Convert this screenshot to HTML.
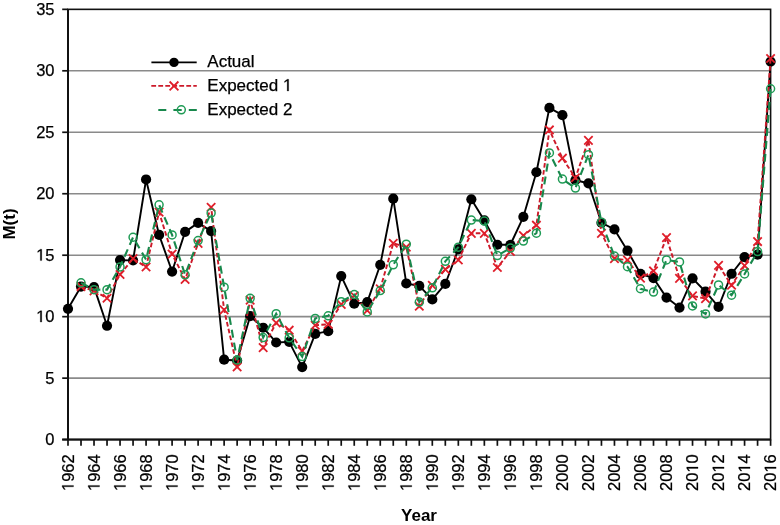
<!DOCTYPE html>
<html><head><meta charset="utf-8"><style>
html,body{margin:0;padding:0;background:#fff;}
svg{display:block;will-change:transform;}
.lbl{font-family:"Liberation Sans",sans-serif;font-size:16.5px;fill:#000;stroke:#000;stroke-width:0.25px;}
.leg{font-family:"Liberation Sans",sans-serif;font-size:17px;fill:#000;stroke:#000;stroke-width:0.25px;}
.ttl{font-family:"Liberation Sans",sans-serif;font-size:17px;font-weight:bold;fill:#000;}
</style></head><body>
<svg width="780" height="525" viewBox="0 0 780 525">
<defs><path id="one" d="M515 0V1237L197 1010V1180L530 1409H696V0Z" fill="#000" stroke="#000" stroke-width="0.25" vector-effect="non-scaling-stroke"/></defs>
<rect width="780" height="525" fill="#fff"/>
<line x1="68" y1="378.14" x2="770.6" y2="378.14" stroke="#8a8a8a" stroke-width="1.6"/>
<line x1="68" y1="316.67" x2="770.6" y2="316.67" stroke="#8a8a8a" stroke-width="1.6"/>
<line x1="68" y1="255.21" x2="770.6" y2="255.21" stroke="#8a8a8a" stroke-width="1.6"/>
<line x1="68" y1="193.74" x2="770.6" y2="193.74" stroke="#8a8a8a" stroke-width="1.6"/>
<line x1="68" y1="132.28" x2="770.6" y2="132.28" stroke="#8a8a8a" stroke-width="1.6"/>
<line x1="68" y1="70.81" x2="770.6" y2="70.81" stroke="#8a8a8a" stroke-width="1.6"/>
<rect x="68" y="9.35" width="702.60" height="430.25" fill="none" stroke="#111" stroke-width="1.6"/>
<line x1="68" y1="9.35" x2="68" y2="439.60" stroke="#111" stroke-width="2"/>
<line x1="62.2" y1="439.60" x2="770.6" y2="439.60" stroke="#111" stroke-width="2"/>
<line x1="62.2" y1="439.60" x2="68" y2="439.60" stroke="#111" stroke-width="1.7"/>
<line x1="62.2" y1="378.14" x2="68" y2="378.14" stroke="#111" stroke-width="1.7"/>
<line x1="62.2" y1="316.67" x2="68" y2="316.67" stroke="#111" stroke-width="1.7"/>
<line x1="62.2" y1="255.21" x2="68" y2="255.21" stroke="#111" stroke-width="1.7"/>
<line x1="62.2" y1="193.74" x2="68" y2="193.74" stroke="#111" stroke-width="1.7"/>
<line x1="62.2" y1="132.28" x2="68" y2="132.28" stroke="#111" stroke-width="1.7"/>
<line x1="62.2" y1="70.81" x2="68" y2="70.81" stroke="#111" stroke-width="1.7"/>
<line x1="62.2" y1="9.35" x2="68" y2="9.35" stroke="#111" stroke-width="1.7"/>
<line x1="68.00" y1="439.60" x2="68.00" y2="445.80" stroke="#111" stroke-width="1.7"/>
<line x1="81.01" y1="439.60" x2="81.01" y2="445.80" stroke="#111" stroke-width="1.7"/>
<line x1="94.02" y1="439.60" x2="94.02" y2="445.80" stroke="#111" stroke-width="1.7"/>
<line x1="107.03" y1="439.60" x2="107.03" y2="445.80" stroke="#111" stroke-width="1.7"/>
<line x1="120.04" y1="439.60" x2="120.04" y2="445.80" stroke="#111" stroke-width="1.7"/>
<line x1="133.06" y1="439.60" x2="133.06" y2="445.80" stroke="#111" stroke-width="1.7"/>
<line x1="146.07" y1="439.60" x2="146.07" y2="445.80" stroke="#111" stroke-width="1.7"/>
<line x1="159.08" y1="439.60" x2="159.08" y2="445.80" stroke="#111" stroke-width="1.7"/>
<line x1="172.09" y1="439.60" x2="172.09" y2="445.80" stroke="#111" stroke-width="1.7"/>
<line x1="185.10" y1="439.60" x2="185.10" y2="445.80" stroke="#111" stroke-width="1.7"/>
<line x1="198.11" y1="439.60" x2="198.11" y2="445.80" stroke="#111" stroke-width="1.7"/>
<line x1="211.12" y1="439.60" x2="211.12" y2="445.80" stroke="#111" stroke-width="1.7"/>
<line x1="224.13" y1="439.60" x2="224.13" y2="445.80" stroke="#111" stroke-width="1.7"/>
<line x1="237.14" y1="439.60" x2="237.14" y2="445.80" stroke="#111" stroke-width="1.7"/>
<line x1="250.15" y1="439.60" x2="250.15" y2="445.80" stroke="#111" stroke-width="1.7"/>
<line x1="263.16" y1="439.60" x2="263.16" y2="445.80" stroke="#111" stroke-width="1.7"/>
<line x1="276.18" y1="439.60" x2="276.18" y2="445.80" stroke="#111" stroke-width="1.7"/>
<line x1="289.19" y1="439.60" x2="289.19" y2="445.80" stroke="#111" stroke-width="1.7"/>
<line x1="302.20" y1="439.60" x2="302.20" y2="445.80" stroke="#111" stroke-width="1.7"/>
<line x1="315.21" y1="439.60" x2="315.21" y2="445.80" stroke="#111" stroke-width="1.7"/>
<line x1="328.22" y1="439.60" x2="328.22" y2="445.80" stroke="#111" stroke-width="1.7"/>
<line x1="341.23" y1="439.60" x2="341.23" y2="445.80" stroke="#111" stroke-width="1.7"/>
<line x1="354.24" y1="439.60" x2="354.24" y2="445.80" stroke="#111" stroke-width="1.7"/>
<line x1="367.25" y1="439.60" x2="367.25" y2="445.80" stroke="#111" stroke-width="1.7"/>
<line x1="380.26" y1="439.60" x2="380.26" y2="445.80" stroke="#111" stroke-width="1.7"/>
<line x1="393.27" y1="439.60" x2="393.27" y2="445.80" stroke="#111" stroke-width="1.7"/>
<line x1="406.29" y1="439.60" x2="406.29" y2="445.80" stroke="#111" stroke-width="1.7"/>
<line x1="419.30" y1="439.60" x2="419.30" y2="445.80" stroke="#111" stroke-width="1.7"/>
<line x1="432.31" y1="439.60" x2="432.31" y2="445.80" stroke="#111" stroke-width="1.7"/>
<line x1="445.32" y1="439.60" x2="445.32" y2="445.80" stroke="#111" stroke-width="1.7"/>
<line x1="458.33" y1="439.60" x2="458.33" y2="445.80" stroke="#111" stroke-width="1.7"/>
<line x1="471.34" y1="439.60" x2="471.34" y2="445.80" stroke="#111" stroke-width="1.7"/>
<line x1="484.35" y1="439.60" x2="484.35" y2="445.80" stroke="#111" stroke-width="1.7"/>
<line x1="497.36" y1="439.60" x2="497.36" y2="445.80" stroke="#111" stroke-width="1.7"/>
<line x1="510.37" y1="439.60" x2="510.37" y2="445.80" stroke="#111" stroke-width="1.7"/>
<line x1="523.38" y1="439.60" x2="523.38" y2="445.80" stroke="#111" stroke-width="1.7"/>
<line x1="536.40" y1="439.60" x2="536.40" y2="445.80" stroke="#111" stroke-width="1.7"/>
<line x1="549.41" y1="439.60" x2="549.41" y2="445.80" stroke="#111" stroke-width="1.7"/>
<line x1="562.42" y1="439.60" x2="562.42" y2="445.80" stroke="#111" stroke-width="1.7"/>
<line x1="575.43" y1="439.60" x2="575.43" y2="445.80" stroke="#111" stroke-width="1.7"/>
<line x1="588.44" y1="439.60" x2="588.44" y2="445.80" stroke="#111" stroke-width="1.7"/>
<line x1="601.45" y1="439.60" x2="601.45" y2="445.80" stroke="#111" stroke-width="1.7"/>
<line x1="614.46" y1="439.60" x2="614.46" y2="445.80" stroke="#111" stroke-width="1.7"/>
<line x1="627.47" y1="439.60" x2="627.47" y2="445.80" stroke="#111" stroke-width="1.7"/>
<line x1="640.48" y1="439.60" x2="640.48" y2="445.80" stroke="#111" stroke-width="1.7"/>
<line x1="653.50" y1="439.60" x2="653.50" y2="445.80" stroke="#111" stroke-width="1.7"/>
<line x1="666.51" y1="439.60" x2="666.51" y2="445.80" stroke="#111" stroke-width="1.7"/>
<line x1="679.52" y1="439.60" x2="679.52" y2="445.80" stroke="#111" stroke-width="1.7"/>
<line x1="692.53" y1="439.60" x2="692.53" y2="445.80" stroke="#111" stroke-width="1.7"/>
<line x1="705.54" y1="439.60" x2="705.54" y2="445.80" stroke="#111" stroke-width="1.7"/>
<line x1="718.55" y1="439.60" x2="718.55" y2="445.80" stroke="#111" stroke-width="1.7"/>
<line x1="731.56" y1="439.60" x2="731.56" y2="445.80" stroke="#111" stroke-width="1.7"/>
<line x1="744.57" y1="439.60" x2="744.57" y2="445.80" stroke="#111" stroke-width="1.7"/>
<line x1="757.58" y1="439.60" x2="757.58" y2="445.80" stroke="#111" stroke-width="1.7"/>
<line x1="770.59" y1="439.60" x2="770.59" y2="445.80" stroke="#111" stroke-width="1.7"/>
<text x="45.32" y="445.00" class="lbl">0</text>
<text x="45.32" y="383.54" class="lbl">5</text>
<use href="#one" transform="translate(36.15,322.07) scale(0.008057,-0.008057)"/><text x="45.32" y="322.07" class="lbl">0</text>
<use href="#one" transform="translate(36.15,260.61) scale(0.008057,-0.008057)"/><text x="45.32" y="260.61" class="lbl">5</text>
<text x="36.15 45.32" y="199.14" class="lbl">20</text>
<text x="36.15 45.32" y="137.68" class="lbl">25</text>
<text x="36.15 45.32" y="76.21" class="lbl">30</text>
<text x="36.15 45.32" y="14.75" class="lbl">35</text>
<g transform="translate(73.50,454.3) rotate(-90)"><use href="#one" transform="translate(-36.71,0.00) scale(0.008057,-0.008057)"/><text x="-27.53 -18.35 -9.18" y="0.00" class="lbl">962</text></g>
<g transform="translate(99.52,454.3) rotate(-90)"><use href="#one" transform="translate(-36.71,0.00) scale(0.008057,-0.008057)"/><text x="-27.53 -18.35 -9.18" y="0.00" class="lbl">964</text></g>
<g transform="translate(125.54,454.3) rotate(-90)"><use href="#one" transform="translate(-36.71,0.00) scale(0.008057,-0.008057)"/><text x="-27.53 -18.35 -9.18" y="0.00" class="lbl">966</text></g>
<g transform="translate(151.57,454.3) rotate(-90)"><use href="#one" transform="translate(-36.71,0.00) scale(0.008057,-0.008057)"/><text x="-27.53 -18.35 -9.18" y="0.00" class="lbl">968</text></g>
<g transform="translate(177.59,454.3) rotate(-90)"><use href="#one" transform="translate(-36.71,0.00) scale(0.008057,-0.008057)"/><text x="-27.53 -18.35 -9.18" y="0.00" class="lbl">970</text></g>
<g transform="translate(203.61,454.3) rotate(-90)"><use href="#one" transform="translate(-36.71,0.00) scale(0.008057,-0.008057)"/><text x="-27.53 -18.35 -9.18" y="0.00" class="lbl">972</text></g>
<g transform="translate(229.63,454.3) rotate(-90)"><use href="#one" transform="translate(-36.71,0.00) scale(0.008057,-0.008057)"/><text x="-27.53 -18.35 -9.18" y="0.00" class="lbl">974</text></g>
<g transform="translate(255.65,454.3) rotate(-90)"><use href="#one" transform="translate(-36.71,0.00) scale(0.008057,-0.008057)"/><text x="-27.53 -18.35 -9.18" y="0.00" class="lbl">976</text></g>
<g transform="translate(281.68,454.3) rotate(-90)"><use href="#one" transform="translate(-36.71,0.00) scale(0.008057,-0.008057)"/><text x="-27.53 -18.35 -9.18" y="0.00" class="lbl">978</text></g>
<g transform="translate(307.70,454.3) rotate(-90)"><use href="#one" transform="translate(-36.71,0.00) scale(0.008057,-0.008057)"/><text x="-27.53 -18.35 -9.18" y="0.00" class="lbl">980</text></g>
<g transform="translate(333.72,454.3) rotate(-90)"><use href="#one" transform="translate(-36.71,0.00) scale(0.008057,-0.008057)"/><text x="-27.53 -18.35 -9.18" y="0.00" class="lbl">982</text></g>
<g transform="translate(359.74,454.3) rotate(-90)"><use href="#one" transform="translate(-36.71,0.00) scale(0.008057,-0.008057)"/><text x="-27.53 -18.35 -9.18" y="0.00" class="lbl">984</text></g>
<g transform="translate(385.76,454.3) rotate(-90)"><use href="#one" transform="translate(-36.71,0.00) scale(0.008057,-0.008057)"/><text x="-27.53 -18.35 -9.18" y="0.00" class="lbl">986</text></g>
<g transform="translate(411.79,454.3) rotate(-90)"><use href="#one" transform="translate(-36.71,0.00) scale(0.008057,-0.008057)"/><text x="-27.53 -18.35 -9.18" y="0.00" class="lbl">988</text></g>
<g transform="translate(437.81,454.3) rotate(-90)"><use href="#one" transform="translate(-36.71,0.00) scale(0.008057,-0.008057)"/><text x="-27.53 -18.35 -9.18" y="0.00" class="lbl">990</text></g>
<g transform="translate(463.83,454.3) rotate(-90)"><use href="#one" transform="translate(-36.71,0.00) scale(0.008057,-0.008057)"/><text x="-27.53 -18.35 -9.18" y="0.00" class="lbl">992</text></g>
<g transform="translate(489.85,454.3) rotate(-90)"><use href="#one" transform="translate(-36.71,0.00) scale(0.008057,-0.008057)"/><text x="-27.53 -18.35 -9.18" y="0.00" class="lbl">994</text></g>
<g transform="translate(515.87,454.3) rotate(-90)"><use href="#one" transform="translate(-36.71,0.00) scale(0.008057,-0.008057)"/><text x="-27.53 -18.35 -9.18" y="0.00" class="lbl">996</text></g>
<g transform="translate(541.90,454.3) rotate(-90)"><use href="#one" transform="translate(-36.71,0.00) scale(0.008057,-0.008057)"/><text x="-27.53 -18.35 -9.18" y="0.00" class="lbl">998</text></g>
<g transform="translate(567.92,454.3) rotate(-90)"><text x="-36.71 -27.53 -18.35 -9.18" y="0.00" class="lbl">2000</text></g>
<g transform="translate(593.94,454.3) rotate(-90)"><text x="-36.71 -27.53 -18.35 -9.18" y="0.00" class="lbl">2002</text></g>
<g transform="translate(619.96,454.3) rotate(-90)"><text x="-36.71 -27.53 -18.35 -9.18" y="0.00" class="lbl">2004</text></g>
<g transform="translate(645.98,454.3) rotate(-90)"><text x="-36.71 -27.53 -18.35 -9.18" y="0.00" class="lbl">2006</text></g>
<g transform="translate(672.01,454.3) rotate(-90)"><text x="-36.71 -27.53 -18.35 -9.18" y="0.00" class="lbl">2008</text></g>
<g transform="translate(698.03,454.3) rotate(-90)"><use href="#one" transform="translate(-18.35,0.00) scale(0.008057,-0.008057)"/><text x="-36.71 -27.53 -9.18" y="0.00" class="lbl">200</text></g>
<g transform="translate(724.05,454.3) rotate(-90)"><use href="#one" transform="translate(-18.35,0.00) scale(0.008057,-0.008057)"/><text x="-36.71 -27.53 -9.18" y="0.00" class="lbl">202</text></g>
<g transform="translate(750.07,454.3) rotate(-90)"><use href="#one" transform="translate(-18.35,0.00) scale(0.008057,-0.008057)"/><text x="-36.71 -27.53 -9.18" y="0.00" class="lbl">204</text></g>
<g transform="translate(776.09,454.3) rotate(-90)"><use href="#one" transform="translate(-18.35,0.00) scale(0.008057,-0.008057)"/><text x="-36.71 -27.53 -9.18" y="0.00" class="lbl">206</text></g>
<text transform="translate(14.6,224) rotate(-90)" text-anchor="middle" class="ttl">M(t)</text>
<text x="419" y="520.5" text-anchor="middle" class="ttl">Year</text>
<polyline points="68.00,308.80 81.01,286.55 94.02,287.17 107.03,325.77 120.04,260.12 133.06,260.37 146.07,179.48 159.08,234.92 172.09,271.55 185.10,231.85 198.11,222.87 211.12,231.11 224.13,359.70 237.14,360.56 250.15,316.18 263.16,327.73 276.18,342.49 289.19,341.87 302.20,367.07 315.21,333.88 328.22,331.18 341.23,276.10 354.24,303.76 367.25,302.16 380.26,264.79 393.27,198.66 406.29,283.48 419.30,285.94 432.31,299.46 445.32,283.97 458.33,249.30 471.34,199.27 484.35,220.42 497.36,244.76 510.37,244.76 523.38,216.85 536.40,172.23 549.41,107.93 562.42,115.19 575.43,180.22 588.44,183.29 601.45,222.75 614.46,229.39 627.47,250.66 640.48,273.77 653.50,278.19 666.51,297.62 679.52,307.57 692.53,278.32 705.54,291.72 718.55,306.96 731.56,273.77 744.57,257.17 757.58,254.71 770.59,61.59" fill="none" stroke="#000" stroke-width="1.9" stroke-linejoin="round"/>
<circle cx="68.00" cy="308.80" r="5.1" fill="#000"/>
<circle cx="81.01" cy="286.55" r="5.1" fill="#000"/>
<circle cx="94.02" cy="287.17" r="5.1" fill="#000"/>
<circle cx="107.03" cy="325.77" r="5.1" fill="#000"/>
<circle cx="120.04" cy="260.12" r="5.1" fill="#000"/>
<circle cx="133.06" cy="260.37" r="5.1" fill="#000"/>
<circle cx="146.07" cy="179.48" r="5.1" fill="#000"/>
<circle cx="159.08" cy="234.92" r="5.1" fill="#000"/>
<circle cx="172.09" cy="271.55" r="5.1" fill="#000"/>
<circle cx="185.10" cy="231.85" r="5.1" fill="#000"/>
<circle cx="198.11" cy="222.87" r="5.1" fill="#000"/>
<circle cx="211.12" cy="231.11" r="5.1" fill="#000"/>
<circle cx="224.13" cy="359.70" r="5.1" fill="#000"/>
<circle cx="237.14" cy="360.56" r="5.1" fill="#000"/>
<circle cx="250.15" cy="316.18" r="5.1" fill="#000"/>
<circle cx="263.16" cy="327.73" r="5.1" fill="#000"/>
<circle cx="276.18" cy="342.49" r="5.1" fill="#000"/>
<circle cx="289.19" cy="341.87" r="5.1" fill="#000"/>
<circle cx="302.20" cy="367.07" r="5.1" fill="#000"/>
<circle cx="315.21" cy="333.88" r="5.1" fill="#000"/>
<circle cx="328.22" cy="331.18" r="5.1" fill="#000"/>
<circle cx="341.23" cy="276.10" r="5.1" fill="#000"/>
<circle cx="354.24" cy="303.76" r="5.1" fill="#000"/>
<circle cx="367.25" cy="302.16" r="5.1" fill="#000"/>
<circle cx="380.26" cy="264.79" r="5.1" fill="#000"/>
<circle cx="393.27" cy="198.66" r="5.1" fill="#000"/>
<circle cx="406.29" cy="283.48" r="5.1" fill="#000"/>
<circle cx="419.30" cy="285.94" r="5.1" fill="#000"/>
<circle cx="432.31" cy="299.46" r="5.1" fill="#000"/>
<circle cx="445.32" cy="283.97" r="5.1" fill="#000"/>
<circle cx="458.33" cy="249.30" r="5.1" fill="#000"/>
<circle cx="471.34" cy="199.27" r="5.1" fill="#000"/>
<circle cx="484.35" cy="220.42" r="5.1" fill="#000"/>
<circle cx="497.36" cy="244.76" r="5.1" fill="#000"/>
<circle cx="510.37" cy="244.76" r="5.1" fill="#000"/>
<circle cx="523.38" cy="216.85" r="5.1" fill="#000"/>
<circle cx="536.40" cy="172.23" r="5.1" fill="#000"/>
<circle cx="549.41" cy="107.93" r="5.1" fill="#000"/>
<circle cx="562.42" cy="115.19" r="5.1" fill="#000"/>
<circle cx="575.43" cy="180.22" r="5.1" fill="#000"/>
<circle cx="588.44" cy="183.29" r="5.1" fill="#000"/>
<circle cx="601.45" cy="222.75" r="5.1" fill="#000"/>
<circle cx="614.46" cy="229.39" r="5.1" fill="#000"/>
<circle cx="627.47" cy="250.66" r="5.1" fill="#000"/>
<circle cx="640.48" cy="273.77" r="5.1" fill="#000"/>
<circle cx="653.50" cy="278.19" r="5.1" fill="#000"/>
<circle cx="666.51" cy="297.62" r="5.1" fill="#000"/>
<circle cx="679.52" cy="307.57" r="5.1" fill="#000"/>
<circle cx="692.53" cy="278.32" r="5.1" fill="#000"/>
<circle cx="705.54" cy="291.72" r="5.1" fill="#000"/>
<circle cx="718.55" cy="306.96" r="5.1" fill="#000"/>
<circle cx="731.56" cy="273.77" r="5.1" fill="#000"/>
<circle cx="744.57" cy="257.17" r="5.1" fill="#000"/>
<circle cx="757.58" cy="254.71" r="5.1" fill="#000"/>
<circle cx="770.59" cy="61.59" r="5.1" fill="#000"/>
<polyline points="81.01,286.55 94.02,290.85 107.03,298.23 120.04,274.51 133.06,258.65 146.07,267.01 159.08,212.18 172.09,254.10 185.10,279.42 198.11,243.40 211.12,207.26 224.13,309.91 237.14,366.95 250.15,300.07 263.16,347.65 276.18,322.82 289.19,330.19 302.20,350.97 315.21,325.28 328.22,324.29 341.23,304.38 354.24,295.77 367.25,310.52 380.26,288.76 393.27,243.28 406.29,247.21 419.30,306.22 432.31,285.32 445.32,269.34 458.33,260.00 471.34,233.32 484.35,233.32 497.36,267.50 510.37,251.52 523.38,235.54 536.40,225.21 549.41,129.94 562.42,158.21 575.43,177.76 588.44,140.39 601.45,233.32 614.46,258.65 627.47,260.00 640.48,278.07 653.50,270.94 666.51,237.63 679.52,278.32 692.53,295.89 705.54,298.60 718.55,265.41 731.56,285.20 744.57,265.65 757.58,241.56 770.59,58.52" fill="none" stroke="#cc1a2a" stroke-width="1.9" stroke-dasharray="4.6 2.4"/>
<path d="M76.81,282.35L85.21,290.75M76.81,290.75L85.21,282.35" stroke="#e01e2a" stroke-width="1.8" fill="none"/>
<path d="M89.82,286.65L98.22,295.05M89.82,295.05L98.22,286.65" stroke="#e01e2a" stroke-width="1.8" fill="none"/>
<path d="M102.83,294.03L111.23,302.43M102.83,302.43L111.23,294.03" stroke="#e01e2a" stroke-width="1.8" fill="none"/>
<path d="M115.84,270.31L124.24,278.71M115.84,278.71L124.24,270.31" stroke="#e01e2a" stroke-width="1.8" fill="none"/>
<path d="M128.86,254.45L137.25,262.85M128.86,262.85L137.25,254.45" stroke="#e01e2a" stroke-width="1.8" fill="none"/>
<path d="M141.87,262.81L150.27,271.21M141.87,271.21L150.27,262.81" stroke="#e01e2a" stroke-width="1.8" fill="none"/>
<path d="M154.88,207.98L163.28,216.38M154.88,216.38L163.28,207.98" stroke="#e01e2a" stroke-width="1.8" fill="none"/>
<path d="M167.89,249.90L176.29,258.30M167.89,258.30L176.29,249.90" stroke="#e01e2a" stroke-width="1.8" fill="none"/>
<path d="M180.90,275.22L189.30,283.62M180.90,283.62L189.30,275.22" stroke="#e01e2a" stroke-width="1.8" fill="none"/>
<path d="M193.91,239.20L202.31,247.60M193.91,247.60L202.31,239.20" stroke="#e01e2a" stroke-width="1.8" fill="none"/>
<path d="M206.92,203.06L215.32,211.46M206.92,211.46L215.32,203.06" stroke="#e01e2a" stroke-width="1.8" fill="none"/>
<path d="M219.93,305.71L228.33,314.11M219.93,314.11L228.33,305.71" stroke="#e01e2a" stroke-width="1.8" fill="none"/>
<path d="M232.94,362.75L241.34,371.15M232.94,371.15L241.34,362.75" stroke="#e01e2a" stroke-width="1.8" fill="none"/>
<path d="M245.95,295.87L254.35,304.27M245.95,304.27L254.35,295.87" stroke="#e01e2a" stroke-width="1.8" fill="none"/>
<path d="M258.96,343.45L267.36,351.85M258.96,351.85L267.36,343.45" stroke="#e01e2a" stroke-width="1.8" fill="none"/>
<path d="M271.98,318.62L280.38,327.02M271.98,327.02L280.38,318.62" stroke="#e01e2a" stroke-width="1.8" fill="none"/>
<path d="M284.99,325.99L293.39,334.39M284.99,334.39L293.39,325.99" stroke="#e01e2a" stroke-width="1.8" fill="none"/>
<path d="M298.00,346.77L306.40,355.17M298.00,355.17L306.40,346.77" stroke="#e01e2a" stroke-width="1.8" fill="none"/>
<path d="M311.01,321.08L319.41,329.48M311.01,329.48L319.41,321.08" stroke="#e01e2a" stroke-width="1.8" fill="none"/>
<path d="M324.02,320.09L332.42,328.49M324.02,328.49L332.42,320.09" stroke="#e01e2a" stroke-width="1.8" fill="none"/>
<path d="M337.03,300.18L345.43,308.58M337.03,308.58L345.43,300.18" stroke="#e01e2a" stroke-width="1.8" fill="none"/>
<path d="M350.04,291.57L358.44,299.97M350.04,299.97L358.44,291.57" stroke="#e01e2a" stroke-width="1.8" fill="none"/>
<path d="M363.05,306.32L371.45,314.72M363.05,314.72L371.45,306.32" stroke="#e01e2a" stroke-width="1.8" fill="none"/>
<path d="M376.06,284.56L384.46,292.96M376.06,292.96L384.46,284.56" stroke="#e01e2a" stroke-width="1.8" fill="none"/>
<path d="M389.07,239.08L397.47,247.48M389.07,247.48L397.47,239.08" stroke="#e01e2a" stroke-width="1.8" fill="none"/>
<path d="M402.09,243.01L410.49,251.41M402.09,251.41L410.49,243.01" stroke="#e01e2a" stroke-width="1.8" fill="none"/>
<path d="M415.10,302.02L423.50,310.42M415.10,310.42L423.50,302.02" stroke="#e01e2a" stroke-width="1.8" fill="none"/>
<path d="M428.11,281.12L436.51,289.52M428.11,289.52L436.51,281.12" stroke="#e01e2a" stroke-width="1.8" fill="none"/>
<path d="M441.12,265.14L449.52,273.54M441.12,273.54L449.52,265.14" stroke="#e01e2a" stroke-width="1.8" fill="none"/>
<path d="M454.13,255.80L462.53,264.20M454.13,264.20L462.53,255.80" stroke="#e01e2a" stroke-width="1.8" fill="none"/>
<path d="M467.14,229.12L475.54,237.52M467.14,237.52L475.54,229.12" stroke="#e01e2a" stroke-width="1.8" fill="none"/>
<path d="M480.15,229.12L488.55,237.52M480.15,237.52L488.55,229.12" stroke="#e01e2a" stroke-width="1.8" fill="none"/>
<path d="M493.16,263.30L501.56,271.70M493.16,271.70L501.56,263.30" stroke="#e01e2a" stroke-width="1.8" fill="none"/>
<path d="M506.17,247.32L514.57,255.72M506.17,255.72L514.57,247.32" stroke="#e01e2a" stroke-width="1.8" fill="none"/>
<path d="M519.18,231.34L527.59,239.74M519.18,239.74L527.59,231.34" stroke="#e01e2a" stroke-width="1.8" fill="none"/>
<path d="M532.20,221.01L540.60,229.41M532.20,229.41L540.60,221.01" stroke="#e01e2a" stroke-width="1.8" fill="none"/>
<path d="M545.21,125.74L553.61,134.14M545.21,134.14L553.61,125.74" stroke="#e01e2a" stroke-width="1.8" fill="none"/>
<path d="M558.22,154.01L566.62,162.41M558.22,162.41L566.62,154.01" stroke="#e01e2a" stroke-width="1.8" fill="none"/>
<path d="M571.23,173.56L579.63,181.96M571.23,181.96L579.63,173.56" stroke="#e01e2a" stroke-width="1.8" fill="none"/>
<path d="M584.24,136.19L592.64,144.59M584.24,144.59L592.64,136.19" stroke="#e01e2a" stroke-width="1.8" fill="none"/>
<path d="M597.25,229.12L605.65,237.52M597.25,237.52L605.65,229.12" stroke="#e01e2a" stroke-width="1.8" fill="none"/>
<path d="M610.26,254.45L618.66,262.85M610.26,262.85L618.66,254.45" stroke="#e01e2a" stroke-width="1.8" fill="none"/>
<path d="M623.27,255.80L631.67,264.20M623.27,264.20L631.67,255.80" stroke="#e01e2a" stroke-width="1.8" fill="none"/>
<path d="M636.28,273.87L644.68,282.27M636.28,282.27L644.68,273.87" stroke="#e01e2a" stroke-width="1.8" fill="none"/>
<path d="M649.29,266.74L657.70,275.14M649.29,275.14L657.70,266.74" stroke="#e01e2a" stroke-width="1.8" fill="none"/>
<path d="M662.31,233.43L670.71,241.83M662.31,241.83L670.71,233.43" stroke="#e01e2a" stroke-width="1.8" fill="none"/>
<path d="M675.32,274.12L683.72,282.52M675.32,282.52L683.72,274.12" stroke="#e01e2a" stroke-width="1.8" fill="none"/>
<path d="M688.33,291.69L696.73,300.09M688.33,300.09L696.73,291.69" stroke="#e01e2a" stroke-width="1.8" fill="none"/>
<path d="M701.34,294.40L709.74,302.80M701.34,302.80L709.74,294.40" stroke="#e01e2a" stroke-width="1.8" fill="none"/>
<path d="M714.35,261.21L722.75,269.61M714.35,269.61L722.75,261.21" stroke="#e01e2a" stroke-width="1.8" fill="none"/>
<path d="M727.36,281.00L735.76,289.40M727.36,289.40L735.76,281.00" stroke="#e01e2a" stroke-width="1.8" fill="none"/>
<path d="M740.37,261.45L748.77,269.85M740.37,269.85L748.77,261.45" stroke="#e01e2a" stroke-width="1.8" fill="none"/>
<path d="M753.38,237.36L761.78,245.76M753.38,245.76L761.78,237.36" stroke="#e01e2a" stroke-width="1.8" fill="none"/>
<path d="M766.39,54.32L774.79,62.72M766.39,62.72L774.79,54.32" stroke="#e01e2a" stroke-width="1.8" fill="none"/>
<polyline points="81.01,282.86 94.02,289.63 107.03,289.63 120.04,266.88 133.06,237.26 146.07,259.63 159.08,204.80 172.09,234.92 185.10,274.87 198.11,240.58 211.12,213.04 224.13,287.17 237.14,360.06 250.15,298.35 263.16,337.57 276.18,313.72 289.19,337.81 302.20,356.62 315.21,318.39 328.22,315.81 341.23,301.67 354.24,294.54 367.25,311.88 380.26,290.61 393.27,264.79 406.29,244.14 419.30,302.04 432.31,287.78 445.32,261.35 458.33,247.21 471.34,220.05 484.35,221.03 497.36,255.57 510.37,248.08 523.38,241.07 536.40,233.20 549.41,152.93 562.42,179.11 575.43,188.09 588.44,154.65 601.45,222.26 614.46,256.07 627.47,266.64 640.48,288.76 653.50,292.08 666.51,259.88 679.52,261.97 692.53,305.98 705.54,313.97 718.55,284.95 731.56,295.16 744.57,274.01 757.58,251.52 770.59,88.76" fill="none" stroke="#18884c" stroke-width="2.1" stroke-dasharray="8 5"/>
<circle cx="81.01" cy="282.86" r="4.0" fill="none" stroke="#1f9b55" stroke-width="1.5"/>
<circle cx="94.02" cy="289.63" r="4.0" fill="none" stroke="#1f9b55" stroke-width="1.5"/>
<circle cx="107.03" cy="289.63" r="4.0" fill="none" stroke="#1f9b55" stroke-width="1.5"/>
<circle cx="120.04" cy="266.88" r="4.0" fill="none" stroke="#1f9b55" stroke-width="1.5"/>
<circle cx="133.06" cy="237.26" r="4.0" fill="none" stroke="#1f9b55" stroke-width="1.5"/>
<circle cx="146.07" cy="259.63" r="4.0" fill="none" stroke="#1f9b55" stroke-width="1.5"/>
<circle cx="159.08" cy="204.80" r="4.0" fill="none" stroke="#1f9b55" stroke-width="1.5"/>
<circle cx="172.09" cy="234.92" r="4.0" fill="none" stroke="#1f9b55" stroke-width="1.5"/>
<circle cx="185.10" cy="274.87" r="4.0" fill="none" stroke="#1f9b55" stroke-width="1.5"/>
<circle cx="198.11" cy="240.58" r="4.0" fill="none" stroke="#1f9b55" stroke-width="1.5"/>
<circle cx="211.12" cy="213.04" r="4.0" fill="none" stroke="#1f9b55" stroke-width="1.5"/>
<circle cx="224.13" cy="287.17" r="4.0" fill="none" stroke="#1f9b55" stroke-width="1.5"/>
<circle cx="237.14" cy="360.06" r="4.0" fill="none" stroke="#1f9b55" stroke-width="1.5"/>
<circle cx="250.15" cy="298.35" r="4.0" fill="none" stroke="#1f9b55" stroke-width="1.5"/>
<circle cx="263.16" cy="337.57" r="4.0" fill="none" stroke="#1f9b55" stroke-width="1.5"/>
<circle cx="276.18" cy="313.72" r="4.0" fill="none" stroke="#1f9b55" stroke-width="1.5"/>
<circle cx="289.19" cy="337.81" r="4.0" fill="none" stroke="#1f9b55" stroke-width="1.5"/>
<circle cx="302.20" cy="356.62" r="4.0" fill="none" stroke="#1f9b55" stroke-width="1.5"/>
<circle cx="315.21" cy="318.39" r="4.0" fill="none" stroke="#1f9b55" stroke-width="1.5"/>
<circle cx="328.22" cy="315.81" r="4.0" fill="none" stroke="#1f9b55" stroke-width="1.5"/>
<circle cx="341.23" cy="301.67" r="4.0" fill="none" stroke="#1f9b55" stroke-width="1.5"/>
<circle cx="354.24" cy="294.54" r="4.0" fill="none" stroke="#1f9b55" stroke-width="1.5"/>
<circle cx="367.25" cy="311.88" r="4.0" fill="none" stroke="#1f9b55" stroke-width="1.5"/>
<circle cx="380.26" cy="290.61" r="4.0" fill="none" stroke="#1f9b55" stroke-width="1.5"/>
<circle cx="393.27" cy="264.79" r="4.0" fill="none" stroke="#1f9b55" stroke-width="1.5"/>
<circle cx="406.29" cy="244.14" r="4.0" fill="none" stroke="#1f9b55" stroke-width="1.5"/>
<circle cx="419.30" cy="302.04" r="4.0" fill="none" stroke="#1f9b55" stroke-width="1.5"/>
<circle cx="432.31" cy="287.78" r="4.0" fill="none" stroke="#1f9b55" stroke-width="1.5"/>
<circle cx="445.32" cy="261.35" r="4.0" fill="none" stroke="#1f9b55" stroke-width="1.5"/>
<circle cx="458.33" cy="247.21" r="4.0" fill="none" stroke="#1f9b55" stroke-width="1.5"/>
<circle cx="471.34" cy="220.05" r="4.0" fill="none" stroke="#1f9b55" stroke-width="1.5"/>
<circle cx="484.35" cy="221.03" r="4.0" fill="none" stroke="#1f9b55" stroke-width="1.5"/>
<circle cx="497.36" cy="255.57" r="4.0" fill="none" stroke="#1f9b55" stroke-width="1.5"/>
<circle cx="510.37" cy="248.08" r="4.0" fill="none" stroke="#1f9b55" stroke-width="1.5"/>
<circle cx="523.38" cy="241.07" r="4.0" fill="none" stroke="#1f9b55" stroke-width="1.5"/>
<circle cx="536.40" cy="233.20" r="4.0" fill="none" stroke="#1f9b55" stroke-width="1.5"/>
<circle cx="549.41" cy="152.93" r="4.0" fill="none" stroke="#1f9b55" stroke-width="1.5"/>
<circle cx="562.42" cy="179.11" r="4.0" fill="none" stroke="#1f9b55" stroke-width="1.5"/>
<circle cx="575.43" cy="188.09" r="4.0" fill="none" stroke="#1f9b55" stroke-width="1.5"/>
<circle cx="588.44" cy="154.65" r="4.0" fill="none" stroke="#1f9b55" stroke-width="1.5"/>
<circle cx="601.45" cy="222.26" r="4.0" fill="none" stroke="#1f9b55" stroke-width="1.5"/>
<circle cx="614.46" cy="256.07" r="4.0" fill="none" stroke="#1f9b55" stroke-width="1.5"/>
<circle cx="627.47" cy="266.64" r="4.0" fill="none" stroke="#1f9b55" stroke-width="1.5"/>
<circle cx="640.48" cy="288.76" r="4.0" fill="none" stroke="#1f9b55" stroke-width="1.5"/>
<circle cx="653.50" cy="292.08" r="4.0" fill="none" stroke="#1f9b55" stroke-width="1.5"/>
<circle cx="666.51" cy="259.88" r="4.0" fill="none" stroke="#1f9b55" stroke-width="1.5"/>
<circle cx="679.52" cy="261.97" r="4.0" fill="none" stroke="#1f9b55" stroke-width="1.5"/>
<circle cx="692.53" cy="305.98" r="4.0" fill="none" stroke="#1f9b55" stroke-width="1.5"/>
<circle cx="705.54" cy="313.97" r="4.0" fill="none" stroke="#1f9b55" stroke-width="1.5"/>
<circle cx="718.55" cy="284.95" r="4.0" fill="none" stroke="#1f9b55" stroke-width="1.5"/>
<circle cx="731.56" cy="295.16" r="4.0" fill="none" stroke="#1f9b55" stroke-width="1.5"/>
<circle cx="744.57" cy="274.01" r="4.0" fill="none" stroke="#1f9b55" stroke-width="1.5"/>
<circle cx="757.58" cy="251.52" r="4.0" fill="none" stroke="#1f9b55" stroke-width="1.5"/>
<circle cx="770.59" cy="88.76" r="4.0" fill="none" stroke="#1f9b55" stroke-width="1.5"/>
<line x1="151.4" y1="62.4" x2="196.7" y2="62.4" stroke="#000" stroke-width="1.9"/>
<circle cx="174" cy="62.4" r="4.7" fill="#000"/>
<text x="207.3" y="67.4" class="leg">Actual</text>
<line x1="151.3" y1="85.9" x2="196.8" y2="85.9" stroke="#cc1a2a" stroke-width="1.8" stroke-dasharray="4.8 2.2"/>
<path d="M169.6,81.5L178.4,90.3M169.6,90.3L178.4,81.5" stroke="#e01e2a" stroke-width="1.8" fill="none"/>
<text x="207.3" y="91" class="leg">Expected</text>
<use href="#one" transform="translate(282.90,91.00) scale(0.008301,-0.008301)"/>
<path d="M158.3,109.9H166.3M173.4,109.9H181.7M188.8,109.9H196.8" stroke="#18884c" stroke-width="2.0" fill="none"/>
<circle cx="181.3" cy="109.8" r="4.0" fill="none" stroke="#1f9b55" stroke-width="1.5"/>
<text x="207.3" y="115" class="leg">Expected 2</text>
</svg>
</body></html>
